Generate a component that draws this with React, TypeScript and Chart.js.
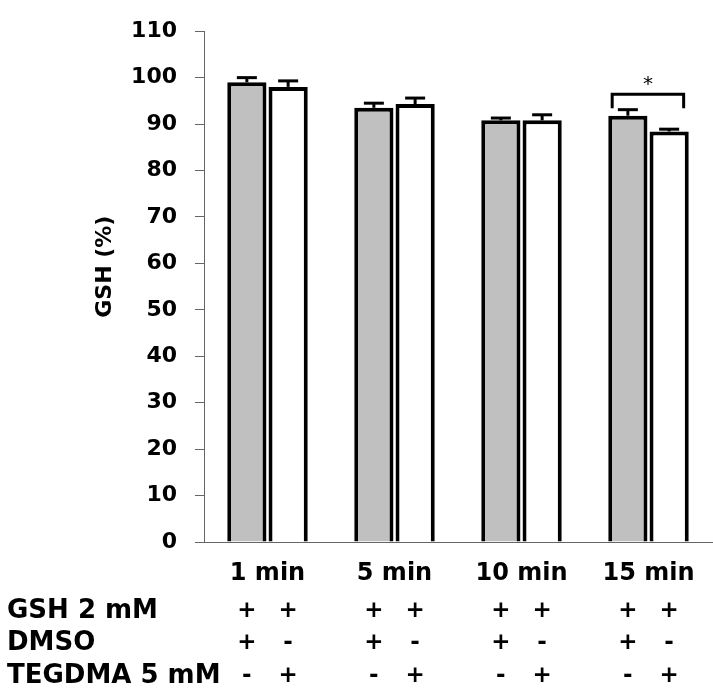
import React, { useEffect, useRef } from "react";
import { Chart, registerables } from "chart.js";

Chart.register(...registerables);

const categories = ["1 min", "5 min", "10 min", "15 min"];
const dmsoValues = [99.0, 93.5, 90.8, 91.8];
const dmsoErrors = [1.0, 1.0, 0.5, 1.3];
const tegdmaValues = [98.0, 94.3, 90.8, 88.4];
const tegdmaErrors = [1.3, 1.3, 1.2, 0.5];
const yMin = 0;
const yMax = 110;
const yStep = 10;
const yTitle = "GSH (%)";
const rowLabels = ["GSH 2 mM", "DMSO", "TEGDMA 5 mM"];
// signs per row: [first bar, second bar] in each group
const rowSigns = [
  ["+", "+"],
  ["+", "-"],
  ["-", "+"],
];
const sigGroup = 3;
const sigBracketValue = 96.4;
const sigBracketDrop = 3;
const sigLabel = "*";

const FONT = "'DejaVu Sans', 'Liberation Sans', Arial, sans-serif";

const errorBarPlugin = {
  id: "errorBars",
  afterDatasetsDraw(chart: any) {
    const ctx = chart.ctx;
    const y = chart.scales.y;
    const errs = [dmsoErrors, tegdmaErrors];
    ctx.save();
    ctx.strokeStyle = "#000";
    ctx.lineWidth = 3;
    chart.data.datasets.forEach((ds: any, di: number) => {
      const meta = chart.getDatasetMeta(di);
      meta.data.forEach((bar: any, i: number) => {
        const v = ds.data[i];
        const top = y.getPixelForValue(v + errs[di][i]);
        const base = y.getPixelForValue(v);
        ctx.beginPath();
        ctx.moveTo(bar.x, base);
        ctx.lineTo(bar.x, top);
        ctx.stroke();
        ctx.beginPath();
        ctx.moveTo(bar.x - 10, top);
        ctx.lineTo(bar.x + 10, top);
        ctx.stroke();
      });
    });
    // significance bracket
    const b1 = chart.getDatasetMeta(0).data[sigGroup] as any;
    const b2 = chart.getDatasetMeta(1).data[sigGroup] as any;
    const x1 = b1.x - b1.width * 0.4;
    const x2 = b2.x + b2.width * 0.37;
    const yb = y.getPixelForValue(sigBracketValue);
    const yd = y.getPixelForValue(sigBracketValue - sigBracketDrop);
    ctx.lineWidth = 3;
    ctx.beginPath();
    ctx.moveTo(x1, yd);
    ctx.lineTo(x1, yb);
    ctx.lineTo(x2, yb);
    ctx.lineTo(x2, yd);
    ctx.stroke();
    ctx.fillStyle = "#000";
    ctx.font = `20px ${FONT}`;
    ctx.textAlign = "center";
    ctx.textBaseline = "middle";
    ctx.fillText(sigLabel, (x1 + x2) / 2, yb - 10);
    ctx.restore();
  },
  afterDraw(chart: any) {
    const ctx = chart.ctx;
    const area = chart.chartArea;
    ctx.save();
    // y axis title
    ctx.fillStyle = "#000";
    ctx.font = `bold 22px ${FONT}`;
    ctx.textAlign = "center";
    ctx.textBaseline = "middle";
    ctx.translate(105, area.top + (area.bottom - area.top) * 0.461);
    ctx.rotate(-Math.PI / 2);
    ctx.fillText(yTitle, 0, 0);
    ctx.restore();

    // table rows
    ctx.save();
    ctx.fillStyle = "#000";
    const rowOffsets = [69, 101, 134];
    rowLabels.forEach((label, r) => {
      const ry = area.bottom + rowOffsets[r];
      ctx.font = `bold 26px ${FONT}`;
      ctx.textAlign = "left";
      ctx.textBaseline = "middle";
      ctx.fillText(label, 7, ry);
      ctx.font = `bold 23px ${FONT}`;
      ctx.textAlign = "center";
      [0, 1].forEach((di) => {
        const meta = chart.getDatasetMeta(di);
        meta.data.forEach((bar: any) => {
          ctx.fillText(rowSigns[r][di], bar.x, ry);
        });
      });
    });
    ctx.restore();
  },
};

export default function App() {
  const ref = useRef<HTMLCanvasElement | null>(null);
  useEffect(() => {
    if (!ref.current) return;
    const chart = new Chart(ref.current, {
      type: "bar",
      data: {
        labels: categories,
        datasets: [
          {
            label: "DMSO",
            data: dmsoValues,
            backgroundColor: "#c0c0c0",
            borderColor: "#000",
            borderWidth: 4,
            categoryPercentage: 0.65,
            barPercentage: 0.95,
          },
          {
            label: "TEGDMA",
            data: tegdmaValues,
            backgroundColor: "#ffffff",
            borderColor: "#000",
            borderWidth: 4,
            categoryPercentage: 0.65,
            barPercentage: 0.95,
          },
        ],
      },
      options: {
        animation: false,
        responsive: false,
        maintainAspectRatio: false,
        layout: { padding: { top: 30, right: 1, left: 0, bottom: 0 } },
        plugins: { legend: { display: false }, tooltip: { enabled: false } },
        scales: {
          x: {
            grid: { display: false },
            border: { display: true, color: "#666", width: 1 },
            ticks: {
              color: "#000",
              padding: 9,
              font: { family: FONT, size: 24, weight: "bold" },
            },
            afterFit(scale: any) {
              scale.height = 146;
            },
          },
          y: {
            min: yMin,
            max: yMax,
            grid: {
              drawOnChartArea: false,
              drawTicks: true,
              tickLength: 9,
              color: "#666",
            },
            border: { display: true, color: "#666", width: 1 },
            ticks: {
              stepSize: yStep,
              color: "#000",
              padding: 18,
              font: { family: FONT, size: 22, weight: "bold" },
            },
            afterFit(scale: any) {
              scale.width = 204;
            },
          },
        },
      },
      plugins: [errorBarPlugin],
    });
    return () => chart.destroy();
  }, []);
  return (
    <div style={{ position: "fixed", left: 0, top: 0, width: 713, height: 688, background: "#fff" }}>
      <canvas ref={ref} width={713} height={688} style={{ display: "block" }} />
    </div>
  );
}
